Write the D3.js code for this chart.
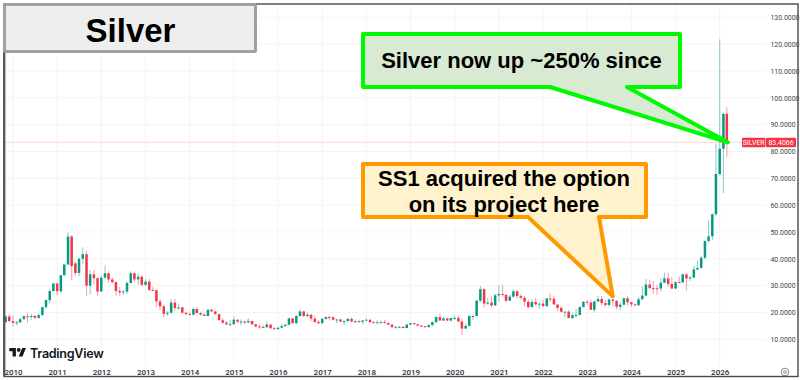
<!DOCTYPE html>
<html>
<head>
<meta charset="utf-8">
<script src="https://cdn.jsdelivr.net/npm/d3@7"></script>
<style>
  html, body { margin: 0; padding: 0; background: #fff; }
  svg { display: block; }
</style>
</head>
<body>
<svg></svg>
<script>
// monthly candles, Nov 2009 to Mar 2026
var firstMonth = new Date(2009, 10, 1);
var lastMonth = new Date(2026, 2, 1);

var opens = [
  16.4, 18.5,
  16.8, 16.2, 16.3, 17.5, 18.6, 18.4, 18.7, 18.0, 19.0, 22.0, 24.6, 28.0,
  30.8, 27.9, 33.9, 37.9, 48.3, 38.3, 34.7, 40.0, 41.7, 30.0, 34.2, 32.8,
  27.8, 33.0, 34.6, 32.3, 31.3, 28.0, 27.5, 27.8, 31.0, 34.6, 32.3, 33.3,
  30.3, 31.5, 28.4, 28.3, 24.1, 22.3, 19.5, 19.9, 23.7, 21.7, 21.9, 19.9,
  19.4, 19.2, 21.3, 19.8, 19.2, 18.7, 21.0, 20.4, 19.4, 17.1, 16.2, 15.6,
  15.6, 17.3, 16.6, 16.6, 16.3, 16.8, 15.6, 14.8, 14.6, 14.5, 15.5, 14.1,
  13.8, 14.3, 14.9, 15.4, 17.8, 16.0, 18.7, 20.4, 18.7, 19.2, 17.7, 16.5,
  16.0, 17.6, 18.3, 18.2, 17.3, 17.4, 16.6, 16.8, 17.6, 16.6, 16.7, 16.5,
  17.0, 17.3, 16.4, 16.3, 16.3, 16.4, 16.1, 15.5, 14.5, 14.7, 14.7, 14.2,
  15.5, 16.0, 15.6, 15.1, 14.9, 14.6, 15.3, 16.4, 18.3, 17.0, 17.8, 17.0,
  17.9, 18.0, 16.6, 14.0, 15.0, 18.7, 18.7, 24.4, 28.7, 23.3, 23.7, 22.6,
  26.4, 26.9, 26.6, 24.4, 25.9, 27.9, 26.1, 25.5, 24.0, 22.0, 23.9, 23.0,
  23.3, 22.4, 25.2, 25.1, 23.0, 21.7, 20.3, 20.3, 17.9, 19.0, 19.1, 22.0,
  24.0, 23.7, 21.0, 24.1, 25.0, 23.5, 22.8, 24.8, 24.3, 22.1, 22.9, 25.3,
  23.8, 23.0, 22.7, 24.9, 26.3, 30.4, 29.1, 29.0, 28.9, 31.1, 32.7, 30.6,
  28.9, 31.3, 31.2, 34.2, 32.7, 33.0, 36.0, 36.6, 40.4, 46.6, 48.4, 56.6,
  71.6, 81.0, 94.0
];
var highs = [
  19.0, 19.4,
  19.0, 16.9, 17.9, 19.0, 20.0, 19.5, 19.0, 19.7, 22.2, 24.8, 28.8, 31.0,
  31.0, 34.0, 37.9, 49.8, 48.9, 39.0, 40.6, 44.3, 43.0, 35.7, 36.0, 33.0,
  33.8, 37.5, 35.4, 33.0, 31.5, 29.5, 28.5, 31.5, 35.4, 35.0, 34.5, 34.0,
  32.5, 32.5, 29.5, 28.5, 25.0, 23.0, 20.4, 25.0, 25.0, 23.2, 22.0, 20.2,
  20.5, 22.0, 21.9, 20.3, 19.8, 21.2, 21.6, 20.5, 19.4, 17.8, 16.8, 17.3,
  18.5, 17.4, 17.5, 16.8, 17.8, 17.0, 15.8, 15.6, 15.3, 16.4, 15.5, 14.8,
  14.6, 15.7, 16.0, 18.0, 18.0, 18.9, 21.1, 20.7, 20.0, 19.2, 18.9, 17.2,
  17.9, 18.6, 18.7, 18.7, 17.5, 17.7, 17.0, 17.9, 18.2, 17.4, 17.3, 17.1,
  17.7, 17.4, 16.9, 17.3, 16.9, 17.3, 16.2, 15.5, 14.9, 15.0, 14.7, 15.6,
  16.2, 16.2, 15.6, 15.3, 15.0, 15.5, 16.6, 18.6, 19.7, 18.3, 17.9, 18.0,
  18.9, 18.9, 17.7, 15.8, 18.9, 19.0, 24.7, 29.9, 28.9, 25.5, 26.0, 26.9,
  30.1, 30.3, 26.7, 26.7, 28.7, 28.3, 26.9, 26.0, 24.8, 24.8, 25.4, 23.3,
  24.7, 25.4, 27.0, 26.2, 23.0, 22.5, 20.4, 20.9, 20.0, 21.2, 22.3, 24.3,
  24.6, 24.6, 24.4, 26.1, 26.1, 24.6, 25.3, 25.0, 24.8, 23.7, 25.5, 26.0,
  23.9, 23.3, 25.8, 29.8, 32.5, 32.3, 31.7, 30.2, 32.7, 34.9, 34.8, 33.1,
  31.6, 33.4, 34.6, 34.6, 33.7, 37.3, 39.5, 41.0, 47.0, 54.4, 56.9, 83.0,
  121.8, 94.5, 96.5
];
var lows = [
  16.2, 16.4,
  14.7, 15.1, 16.2, 17.4, 16.0, 17.3, 17.4, 17.5, 18.9, 21.3, 23.3, 27.8,
  26.4, 27.2, 33.5, 37.5, 32.0, 33.5, 33.5, 38.0, 26.1, 26.7, 30.5, 26.2,
  27.9, 32.7, 31.0, 30.8, 26.1, 26.2, 26.5, 26.9, 30.8, 31.2, 30.2, 29.8,
  29.9, 28.0, 28.0, 22.0, 20.8, 18.2, 18.7, 19.5, 20.6, 21.0, 19.5, 18.9,
  19.0, 19.0, 19.6, 18.9, 18.7, 18.6, 20.3, 19.2, 17.2, 15.7, 15.1, 15.2,
  15.5, 15.9, 15.3, 15.7, 16.0, 15.6, 14.4, 13.9, 14.2, 14.3, 13.9, 13.6,
  13.6, 14.2, 14.8, 15.2, 15.8, 15.8, 18.5, 18.3, 18.2, 16.7, 16.0, 15.6,
  15.9, 17.4, 17.0, 17.0, 15.9, 16.5, 15.2, 16.5, 16.4, 16.3, 16.4, 15.6,
  16.9, 16.1, 16.0, 16.1, 16.0, 16.0, 15.2, 14.3, 13.9, 14.3, 14.0, 14.2,
  15.3, 15.6, 14.9, 14.7, 14.3, 14.3, 14.9, 16.0, 16.9, 16.8, 16.7, 16.5,
  17.3, 16.5, 11.6, 13.8, 14.7, 17.2, 18.6, 23.7, 21.8, 22.8, 21.9, 22.5,
  24.1, 25.9, 23.8, 24.3, 25.5, 25.2, 24.8, 22.3, 21.4, 21.9, 22.5, 21.4,
  22.1, 22.0, 24.0, 22.9, 20.4, 20.0, 18.1, 17.9, 17.6, 18.0, 18.9, 21.9,
  22.8, 20.9, 19.9, 24.0, 22.7, 22.1, 22.1, 22.2, 21.0, 20.7, 22.6, 22.5,
  21.9, 22.3, 22.6, 24.8, 26.0, 28.6, 27.0, 26.5, 27.7, 30.9, 29.7, 28.7,
  28.7, 31.0, 31.0, 28.3, 31.7, 32.9, 36.0, 36.3, 39.7, 46.0, 46.9, 56.0,
  71.0, 64.4, 78.0
];
var closes = [
  18.5, 16.8,
  16.2, 16.3, 17.5, 18.6, 18.4, 18.7, 18.0, 19.0, 22.0, 24.6, 28.0, 30.8,
  27.9, 33.9, 37.9, 48.3, 37.3, 34.7, 40.0, 41.7, 30.0, 34.2, 32.8, 27.8,
  33.0, 34.6, 32.3, 31.3, 28.0, 27.5, 27.8, 31.0, 34.6, 32.3, 33.3, 30.3,
  31.5, 28.4, 28.3, 24.1, 22.3, 19.5, 19.9, 23.7, 21.7, 21.9, 19.9, 19.4,
  19.2, 21.3, 19.8, 19.2, 18.7, 21.0, 20.4, 19.4, 17.1, 16.2, 15.6, 15.6,
  17.3, 16.6, 16.6, 16.3, 16.8, 15.6, 14.8, 14.6, 14.5, 15.5, 14.1, 13.8,
  14.3, 14.9, 15.4, 17.8, 16.0, 18.7, 20.4, 18.7, 19.2, 17.7, 16.5, 16.0,
  17.6, 18.3, 18.2, 17.3, 17.4, 16.6, 16.8, 17.6, 16.6, 16.7, 16.5, 17.0,
  17.3, 16.4, 16.3, 16.3, 16.4, 16.1, 15.5, 14.5, 14.7, 14.7, 14.2, 15.5,
  16.0, 15.6, 15.1, 14.9, 14.6, 15.3, 16.4, 18.3, 17.0, 17.8, 17.0, 17.9,
  18.0, 16.6, 14.0, 15.0, 18.7, 18.7, 24.4, 28.7, 23.3, 23.7, 22.6, 26.4,
  26.9, 26.6, 24.4, 25.9, 27.9, 26.1, 25.5, 24.0, 22.0, 23.9, 23.0, 23.3,
  22.4, 25.2, 25.1, 23.0, 21.7, 20.3, 20.3, 17.9, 19.0, 19.1, 22.0, 24.0,
  23.7, 21.0, 24.1, 25.0, 23.5, 22.8, 24.8, 24.3, 22.1, 22.9, 25.3, 23.8,
  23.0, 22.7, 24.9, 26.3, 30.4, 29.1, 29.0, 28.9, 31.1, 32.7, 30.6, 28.9,
  31.3, 31.2, 34.2, 32.7, 33.0, 36.0, 36.6, 40.4, 46.6, 48.4, 56.6, 71.6,
  81.0, 94.0, 83.4066
];

var yearTicks = [2010, 2011, 2012, 2013, 2014, 2015, 2016, 2017, 2018, 2019, 2020, 2021, 2022, 2023, 2024, 2025, 2026];
var priceTicks = [10, 20, 30, 40, 50, 60, 70, 80, 90, 100, 110, 120, 130];
var lastPrice = 83.4066;

var width = 800, height = 380;
var up = '#089981', down = '#f23645';

var months = d3.timeMonth.range(firstMonth, d3.timeMonth.offset(lastMonth, 1));
var candles = months.map(function(m, i) {
  return { date: m, o: opens[i], h: highs[i], l: lows[i], c: closes[i] };
});

var svg = d3.select('svg')
  .attr('width', width)
  .attr('height', height);

var x = d3.scaleTime()
  .domain([new Date(2010, 0, 1), new Date(2026, 0, 1)])
  .range([13, 719.7]);

var y = d3.scaleLinear()
  .domain([10, 130])
  .range([339.3, 17.3]);

// grid
var grid = svg.append('g');
grid.selectAll('.gx')
  .data(yearTicks)
  .enter().append('line')
  .attr('x1', d => x(new Date(d, 0, 1)))
  .attr('x2', d => x(new Date(d, 0, 1)))
  .attr('y1', 4)
  .attr('y2', 364)
  .attr('stroke', '#f4f4f5');
grid.selectAll('.gy')
  .data(priceTicks)
  .enter().append('line')
  .attr('x1', 5)
  .attr('x2', 765)
  .attr('y1', d => y(d))
  .attr('y2', d => y(d))
  .attr('stroke', '#f4f4f5');

// axes
var xAxis = svg.append('g')
  .attr('transform', 'translate(0,372)')
  .call(d3.axisBottom(x)
    .tickValues(yearTicks.map(d => new Date(d, 0, 1)))
    .tickFormat(d3.timeFormat('%Y'))
    .tickSize(0)
    .tickPadding(0));
xAxis.select('.domain').remove();
xAxis.selectAll('text')
  .attr('dy', '0.32em')
  .attr('font-family', 'Roboto')
  .attr('font-weight', 500)
  .attr('font-size', 8)
  .attr('fill', '#2a2e39');

var yAxis = svg.append('g')
  .attr('transform', 'translate(770.5,0)')
  .call(d3.axisRight(y)
    .tickValues(priceTicks)
    .tickFormat(d3.format('.4f'))
    .tickSize(0)
    .tickPadding(0));
yAxis.select('.domain').remove();
yAxis.selectAll('text')
  .attr('font-family', 'Roboto')
  .attr('font-size', 6.9)
  .attr('fill', '#444');

// last price line
svg.append('line')
  .attr('x1', 5)
  .attr('x2', 742)
  .attr('y1', y(lastPrice))
  .attr('y2', y(lastPrice))
  .attr('stroke', '#fbd3d7')
  .attr('stroke-width', 1);

// candles
var marks = svg.append('g');
marks.selectAll('.wick')
  .data(candles)
  .enter().append('line')
  .attr('x1', d => x(d.date))
  .attr('x2', d => x(d.date))
  .attr('y1', d => y(d.h))
  .attr('y2', d => y(d.l))
  .attr('stroke', d => d.c >= d.o ? up : down)
  .attr('stroke-opacity', 0.45)
  .attr('stroke-width', 1.1);
marks.selectAll('.body')
  .data(candles)
  .enter().append('rect')
  .attr('x', d => x(d.date) - 1.25)
  .attr('width', 2.5)
  .attr('y', d => y(Math.max(d.o, d.c)))
  .attr('height', d => Math.max(1, Math.abs(y(d.o) - y(d.c))))
  .attr('fill', d => d.c >= d.o ? up : down);

// price tag
var tagY = y(lastPrice);
svg.append('rect')
  .attr('x', 742).attr('y', tagY - 4.5).attr('width', 23.5).attr('height', 9.5).attr('rx', 1)
  .attr('fill', down);
svg.append('rect')
  .attr('x', 766).attr('y', tagY - 4.5).attr('width', 30).attr('height', 9.5).attr('rx', 1)
  .attr('fill', down);
svg.append('text')
  .attr('x', 753.7).attr('y', tagY).attr('dy', '0.35em')
  .attr('text-anchor', 'middle')
  .attr('font-family', 'Roboto').attr('font-size', 7).attr('fill', '#fff')
  .text('SILVER');
svg.append('text')
  .attr('x', 781).attr('y', tagY).attr('dy', '0.35em')
  .attr('text-anchor', 'middle')
  .attr('font-family', 'Roboto').attr('font-size', 6.9).attr('fill', '#fff')
  .text(d3.format('.4f')(lastPrice));

// frame
svg.append('rect')
  .attr('x', 4).attr('y', 4).attr('width', 794).attr('height', 372.5)
  .attr('fill', 'none').attr('stroke', '#4a4a4a').attr('stroke-width', 1.4);
svg.append('line')
  .attr('x1', 4.2).attr('x2', 4.2).attr('y1', 4).attr('y2', 376)
  .attr('stroke', '#5a5a5a').attr('stroke-width', 2.4);

// TradingView mark
var logo = svg.append('g').attr('transform', 'translate(9.3,346.2) scale(0.47)');
logo.append('path').attr('d', 'M14 22H7V11H0V4h14v18zM28 22h-8l7.5-18h8L28 22z').attr('fill', '#131722');
logo.append('circle').attr('cx', 20).attr('cy', 8).attr('r', 4).attr('fill', '#131722');
svg.append('text')
  .attr('x', 30).attr('y', 357.5)
  .attr('font-family', 'Inter').attr('font-weight', 600).attr('font-size', 12.6)
  .attr('letter-spacing', -0.3)
  .attr('fill', '#131722')
  .text('TradingView');

// settings circle at the axis corner
svg.append('circle')
  .attr('cx', 785).attr('cy', 372).attr('r', 3.8)
  .attr('fill', 'none').attr('stroke', '#666').attr('stroke-width', 0.8);
svg.append('circle')
  .attr('cx', 785).attr('cy', 372).attr('r', 1.4)
  .attr('fill', 'none').attr('stroke', '#666').attr('stroke-width', 0.7);

// title box
svg.append('rect')
  .attr('x', 4.5).attr('y', 4.5).attr('width', 251).attr('height', 47).attr('rx', 1)
  .attr('fill', '#eeeeee').attr('stroke', '#a0a0a0').attr('stroke-width', 3);
svg.append('text')
  .attr('x', 130.5).attr('y', 41.5)
  .attr('text-anchor', 'middle')
  .attr('font-family', 'Liberation Sans').attr('font-weight', 700).attr('font-size', 33)
  .attr('fill', '#000')
  .text('Silver');

// callouts: box with a pointer running to a spot on the chart
function callout(box, baseA, baseB, tip, fill, stroke) {
  var line = d3.line();
  var pts = [
    [box.x0, box.y0], [box.x1, box.y0], [box.x1, box.y1],
    [baseB, box.y1], tip, [baseA, box.y1], [box.x0, box.y1]
  ];
  svg.append('path')
    .attr('d', line(pts) + 'Z')
    .attr('fill', fill)
    .attr('stroke', stroke)
    .attr('stroke-width', 4)
    .attr('stroke-linejoin', 'round');
}
function calloutText(cx, baseline, str) {
  svg.append('text')
    .attr('x', cx).attr('y', baseline)
    .attr('text-anchor', 'middle')
    .attr('font-family', 'Liberation Sans').attr('font-weight', 700).attr('font-size', 22)
    .attr('fill', '#000')
    .text(str);
}

callout({ x0: 363, y0: 34, x1: 680, y1: 87 }, 550, 627, [x(lastMonth) + 1, y(lastPrice)], '#d9ead3', '#00f800');
calloutText(521.5, 68, 'Silver now up ~250% since');

callout({ x0: 363, y0: 164, x1: 646, y1: 217 }, 528, 599, [x(new Date(2023, 7, 1)), y(26)], '#fff2cc', '#ff9900');
calloutText(504, 186, 'SS1 acquired the option');
calloutText(504, 212, 'on its project here');
</script>
</body>
</html>
